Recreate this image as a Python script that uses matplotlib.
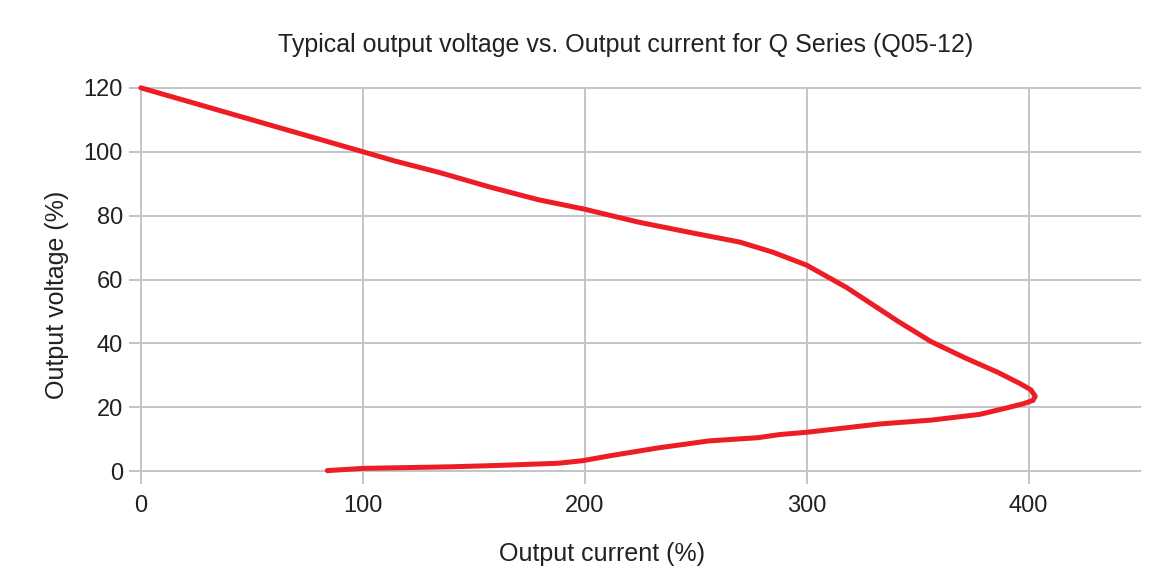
import matplotlib
matplotlib.use('Agg')
import matplotlib.pyplot as plt

plt.rcParams['font.family'] = ['Liberation Sans', 'DejaVu Sans']

# curve, traced from (0, 120) round the knee to the short-circuit end
current = [0, 50, 100, 115, 134, 157, 179, 200, 224, 247, 270, 285, 300, 318, 341, 356,
           371, 386, 396, 401, 403, 402, 398, 390, 378, 356, 333, 300, 288, 278, 256, 233, 211,
           199, 188, 160, 140, 100, 84]
voltage = [120, 110, 100, 97, 93.6, 89, 85, 82, 78, 74.8, 71.7, 68.5, 64.5, 57.5, 47, 40.6,
           35.6, 31, 27.5, 25.5, 23.5, 22.2, 21.2, 19.8, 17.8, 16, 14.8, 12.2, 11.5, 10.5, 9.5,
           7.3, 4.8, 3.3, 2.5, 1.8, 1.4, 0.9, 0.2]

x_ticks = [0, 100, 200, 300, 400]
y_ticks = [0, 20, 40, 60, 80, 100, 120]

fig = plt.figure(figsize=(11.64, 5.74), dpi=100)
ax = fig.add_axes([0.121, 0.179, 0.858, 0.668])

ax.plot(current, voltage, color='#ee1c25', lw=3.6, solid_capstyle='round',
        solid_joinstyle='round', clip_on=False, zorder=3)

ax.set_xlim(0, 450)
ax.set_ylim(0, 120)
ax.set_xticks(x_ticks)
ax.set_yticks(y_ticks)
ax.grid(True, color='#c4c4c8', lw=1.4)
for gl in ax.get_xgridlines() + ax.get_ygridlines():
    gl.set_clip_on(False)
for s in ax.spines.values():
    s.set_visible(False)
ax.tick_params(axis='both', length=9, width=1.4, color='#c4c4c8', labelsize=17,
               labelcolor='#222222')
ax.tick_params(axis='x', pad=8)
ax.tick_params(axis='y', pad=4)

ax.set_title('Typical output voltage vs. Output current for Q Series (Q05-12)',
             fontsize=18, color='#222222', pad=26, x=0.485)
ax.set_xlabel('Output current (%)', fontsize=18, color='#222222')
ax.xaxis.set_label_coords(0.462, -0.185)
ax.set_ylabel('Output voltage (%)', fontsize=18, color='#222222')
ax.yaxis.set_label_coords(-0.072, 0.46)

fig.savefig('out.png', dpi=100)
